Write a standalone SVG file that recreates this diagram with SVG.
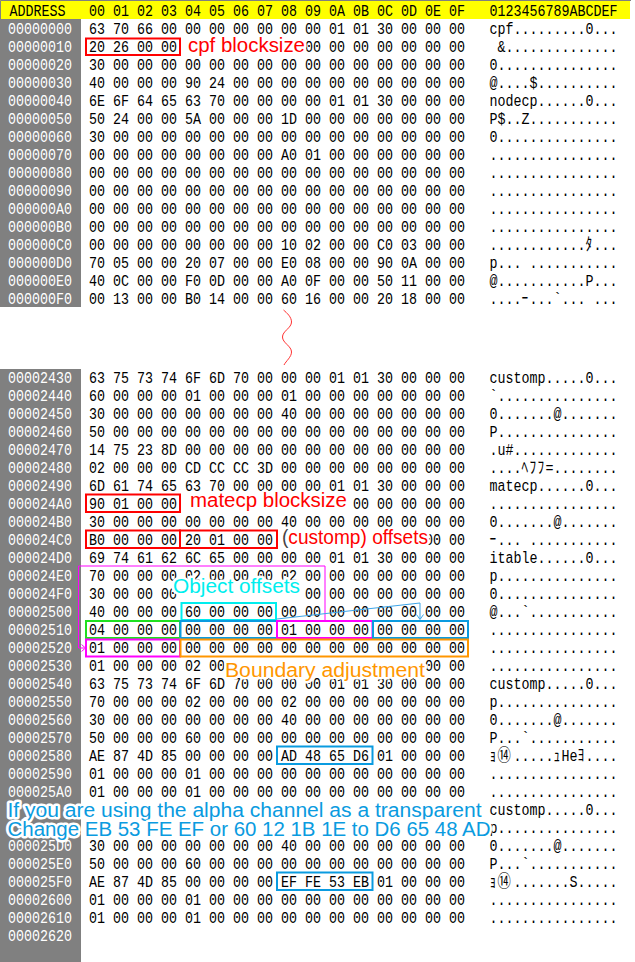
<svg xmlns="http://www.w3.org/2000/svg" width="635" height="962" viewBox="0 0 635 962">
<style>
.t{font-family:"Liberation Mono","Noto Sans CJK JP",monospace;font-size:16.5px;white-space:pre}
.w{fill:#fff}
.k{fill:#000}
.lb{font-family:"Liberation Sans",Arial,sans-serif;paint-order:stroke fill;stroke:#fff;stroke-width:5px;stroke-linejoin:round}
.bx{fill:none;stroke-width:2}
.red{stroke:#ff0000}
.mag{stroke:#ff00ff}
.blu{stroke:#0a9be0}
.cya{stroke:#00eeee}
.grn{stroke:#1fe01f}
.org{stroke:#ff9600}
</style>
<rect width="635" height="962" fill="#fff"/>
<g id="header">
<rect x="0" y="0" width="630" height="19" fill="#ffff00"/>
<path d="M0.5,19 V0.5 H631" fill="none" stroke="#808080" stroke-width="1"/>
<g transform="scale(0.80808 1)">
<text class="t k" x="11.8" y="16.5">ADDRESS</text>
<text class="t k" x="110.1" y="16.5">00 01 02 03 04 05 06 07 08 09 0A 0B 0C 0D 0E 0F</text>
<text class="t k" x="605.8" y="16.5">0123456789ABCDEF</text>
</g>
</g>
<g id="address-column">
<rect x="0" y="19" width="81" height="288" fill="#808080"/>
<rect x="0" y="369" width="81" height="593" fill="#808080"/>
<g transform="scale(0.80808 1)">
<text class="t w" x="9.9" y="34.5">00000000</text>
<text class="t w" x="9.9" y="52.5">00000010</text>
<text class="t w" x="9.9" y="70.5">00000020</text>
<text class="t w" x="9.9" y="88.5">00000030</text>
<text class="t w" x="9.9" y="106.5">00000040</text>
<text class="t w" x="9.9" y="124.5">00000050</text>
<text class="t w" x="9.9" y="142.5">00000060</text>
<text class="t w" x="9.9" y="160.5">00000070</text>
<text class="t w" x="9.9" y="178.5">00000080</text>
<text class="t w" x="9.9" y="196.5">00000090</text>
<text class="t w" x="9.9" y="214.5">000000A0</text>
<text class="t w" x="9.9" y="232.5">000000B0</text>
<text class="t w" x="9.9" y="250.5">000000C0</text>
<text class="t w" x="9.9" y="268.5">000000D0</text>
<text class="t w" x="9.9" y="286.5">000000E0</text>
<text class="t w" x="9.9" y="304.5">000000F0</text>
<text class="t w" x="9.9" y="383">00002430</text>
<text class="t w" x="9.9" y="401">00002440</text>
<text class="t w" x="9.9" y="419">00002450</text>
<text class="t w" x="9.9" y="437">00002460</text>
<text class="t w" x="9.9" y="455">00002470</text>
<text class="t w" x="9.9" y="473">00002480</text>
<text class="t w" x="9.9" y="491">00002490</text>
<text class="t w" x="9.9" y="509">000024A0</text>
<text class="t w" x="9.9" y="527">000024B0</text>
<text class="t w" x="9.9" y="545">000024C0</text>
<text class="t w" x="9.9" y="563">000024D0</text>
<text class="t w" x="9.9" y="581">000024E0</text>
<text class="t w" x="9.9" y="599">000024F0</text>
<text class="t w" x="9.9" y="617">00002500</text>
<text class="t w" x="9.9" y="635">00002510</text>
<text class="t w" x="9.9" y="653">00002520</text>
<text class="t w" x="9.9" y="671">00002530</text>
<text class="t w" x="9.9" y="689">00002540</text>
<text class="t w" x="9.9" y="707">00002550</text>
<text class="t w" x="9.9" y="725">00002560</text>
<text class="t w" x="9.9" y="743">00002570</text>
<text class="t w" x="9.9" y="761">00002580</text>
<text class="t w" x="9.9" y="779">00002590</text>
<text class="t w" x="9.9" y="797">000025A0</text>
<text class="t w" x="9.9" y="851">000025D0</text>
<text class="t w" x="9.9" y="869">000025E0</text>
<text class="t w" x="9.9" y="887">000025F0</text>
<text class="t w" x="9.9" y="905">00002600</text>
<text class="t w" x="9.9" y="923">00002610</text>
<text class="t w" x="9.9" y="941">00002620</text>
</g>
</g>
<g id="hex-bytes" transform="scale(0.80808 1)">
<text class="t k" x="110.1" y="34.5">63 70 66 00 00 00 00 00 00 00 01 01 30 00 00 00</text>
<text class="t k" x="110.1" y="52.5">20 26 00 00</text>
<text class="t k" x="377.4" y="52.5">00 00 00 00 00 00 00</text>
<text class="t k" x="110.1" y="70.5">30 00 00 00 00 00 00 00 00 00 00 00 00 00 00 00</text>
<text class="t k" x="110.1" y="88.5">40 00 00 00 90 24 00 00 00 00 00 00 00 00 00 00</text>
<text class="t k" x="110.1" y="106.5">6E 6F 64 65 63 70 00 00 00 00 01 01 30 00 00 00</text>
<text class="t k" x="110.1" y="124.5">50 24 00 00 5A 00 00 00 1D 00 00 00 00 00 00 00</text>
<text class="t k" x="110.1" y="142.5">30 00 00 00 00 00 00 00 00 00 00 00 00 00 00 00</text>
<text class="t k" x="110.1" y="160.5">00 00 00 00 00 00 00 00 A0 01 00 00 00 00 00 00</text>
<text class="t k" x="110.1" y="178.5">00 00 00 00 00 00 00 00 00 00 00 00 00 00 00 00</text>
<text class="t k" x="110.1" y="196.5">00 00 00 00 00 00 00 00 00 00 00 00 00 00 00 00</text>
<text class="t k" x="110.1" y="214.5">00 00 00 00 00 00 00 00 00 00 00 00 00 00 00 00</text>
<text class="t k" x="110.1" y="232.5">00 00 00 00 00 00 00 00 00 00 00 00 00 00 00 00</text>
<text class="t k" x="110.1" y="250.5">00 00 00 00 00 00 00 00 10 02 00 00 C0 03 00 00</text>
<text class="t k" x="110.1" y="268.5">70 05 00 00 20 07 00 00 E0 08 00 00 90 0A 00 00</text>
<text class="t k" x="110.1" y="286.5">40 0C 00 00 F0 0D 00 00 A0 0F 00 00 50 11 00 00</text>
<text class="t k" x="110.1" y="304.5">00 13 00 00 B0 14 00 00 60 16 00 00 20 18 00 00</text>
<text class="t k" x="110.1" y="383">63 75 73 74 6F 6D 70 00 00 00 01 01 30 00 00 00</text>
<text class="t k" x="110.1" y="401">60 00 00 00 01 00 00 00 01 00 00 00 00 00 00 00</text>
<text class="t k" x="110.1" y="419">30 00 00 00 00 00 00 00 40 00 00 00 00 00 00 00</text>
<text class="t k" x="110.1" y="437">50 00 00 00 00 00 00 00 00 00 00 00 00 00 00 00</text>
<text class="t k" x="110.1" y="455">14 75 23 8D 00 00 00 00 00 00 00 00 00 00 00 00</text>
<text class="t k" x="110.1" y="473">02 00 00 00 CD CC CC 3D 00 00 00 00 00 00 00 00</text>
<text class="t k" x="110.1" y="491">6D 61 74 65 63 70 00 00 00 00 01 01 30 00 00 00</text>
<text class="t k" x="110.1" y="509">90 01 00 00</text>
<text class="t k" x="436.8" y="509">00 00 00 00 00</text>
<text class="t k" x="110.1" y="527">30 00 00 00 00 00 00 00 40 00 00 00 00 00 00 00</text>
<text class="t k" x="110.1" y="545">B0 00 00 00 20 01 00 00</text>
<text class="t k" x="525.9" y="545">00 00</text>
<text class="t k" x="110.1" y="563">69 74 61 62 6C 65 00 00 00 00 01 01 30 00 00 00</text>
<text class="t k" x="110.1" y="581">70 00 00 00 02 00 00 00 02 00 00 00 00 00 00 00</text>
<text class="t k" x="110.1" y="599">30 00 00 00</text>
<text class="t k" x="377.4" y="599">00 00 00 00 00 00 00</text>
<text class="t k" x="110.1" y="617">40 00 00 00 60 00 00 00 00 00 00 00 00 00 00 00</text>
<text class="t k" x="110.1" y="635">04 00 00 00 00 00 00 00 01 00 00 00 00 00 00 00</text>
<text class="t k" x="110.1" y="653">01 00 00 00 00 00 00 00 00 00 00 00 00 00 00 00</text>
<text class="t k" x="110.1" y="671">01 00 00 00 02 00</text>
<text class="t k" x="525.9" y="671">00 00</text>
<text class="t k" x="110.1" y="689">63 75 73 74 6F 6D 70 00 00 00 01 01 30 00 00 00</text>
<text class="t k" x="110.1" y="707">70 00 00 00 02 00 00 00 02 00 00 00 00 00 00 00</text>
<text class="t k" x="110.1" y="725">30 00 00 00 00 00 00 00 40 00 00 00 00 00 00 00</text>
<text class="t k" x="110.1" y="743">50 00 00 00 60 00 00 00 00 00 00 00 00 00 00 00</text>
<text class="t k" x="110.1" y="761">AE 87 4D 85 00 00 00 00 AD 48 65 D6 01 00 00 00</text>
<text class="t k" x="110.1" y="779">01 00 00 00 01 00 00 00 00 00 00 00 00 00 00 00</text>
<text class="t k" x="110.1" y="797">01 00 00 00 01 00 00 00 00 00 00 00 00 00 00 00</text>
<text class="t k" x="110.1" y="851">30 00 00 00 00 00 00 00 40 00 00 00 00 00 00 00</text>
<text class="t k" x="110.1" y="869">50 00 00 00 60 00 00 00 00 00 00 00 00 00 00 00</text>
<text class="t k" x="110.1" y="887">AE 87 4D 85 00 00 00 00 EF FE 53 EB 01 00 00 00</text>
<text class="t k" x="110.1" y="905">01 00 00 00 01 00 00 00 00 00 00 00 00 00 00 00</text>
<text class="t k" x="110.1" y="923">01 00 00 00 01 00 00 00 00 00 00 00 00 00 00 00</text>
</g>
<g id="ascii-column" transform="scale(0.80808 1)">
<text class="t k" x="605.8" y="34.5">cpf.........0...</text>
<text class="t k" x="605.8" y="52.5" xml:space="preserve"> &amp;..............</text>
<text class="t k" x="605.8" y="70.5">0...............</text>
<text class="t k" x="605.8" y="88.5">@....$..........</text>
<text class="t k" x="605.8" y="106.5">nodecp......0...</text>
<text class="t k" x="605.8" y="124.5">P$..Z...........</text>
<text class="t k" x="605.8" y="142.5">0...............</text>
<text class="t k" x="605.8" y="160.5">................</text>
<text class="t k" x="605.8" y="178.5">................</text>
<text class="t k" x="605.8" y="196.5">................</text>
<text class="t k" x="605.8" y="214.5">................</text>
<text class="t k" x="605.8" y="232.5">................</text>
<text class="t k" x="605.8 615.7 625.6 635.5 645.4 655.3 665.2 675.1 685 694.9 704.8 714.7 724.6 734.5 744.4 754.3" y="250.5">............ﾀ...</text>
<text class="t k" x="605.8" y="268.5">p... ...........</text>
<text class="t k" x="605.8" y="286.5">@...........P...</text>
<text class="t k" x="605.8 615.7 625.6 635.5 645.4 655.3 665.2 675.1 685 694.9 704.8 714.7 724.6 734.5 744.4 754.3" y="304.5">....ｰ...`... ...</text>
<text class="t k" x="605.8" y="383">customp.....0...</text>
<text class="t k" x="605.8" y="401">`...............</text>
<text class="t k" x="605.8" y="419">0.......@.......</text>
<text class="t k" x="605.8" y="437">P...............</text>
<text class="t k" x="605.8" y="455">.u#.............</text>
<text class="t k" x="605.8 615.7 625.6 635.5 645.4 655.3 665.2 675.1 685 694.9 704.8 714.7 724.6 734.5 744.4 754.3" y="473">....ﾍﾌﾌ=........</text>
<text class="t k" x="605.8" y="491">matecp......0...</text>
<text class="t k" x="605.8" y="509">................</text>
<text class="t k" x="605.8" y="527">0.......@.......</text>
<text class="t k" x="605.8 615.7 625.6 635.5 645.4 655.3 665.2 675.1 685 694.9 704.8 714.7 724.6 734.5 744.4 754.3" y="545">ｰ... ...........</text>
<text class="t k" x="605.8" y="563">itable......0...</text>
<text class="t k" x="605.8" y="581">p...............</text>
<text class="t k" x="605.8" y="599">0...............</text>
<text class="t k" x="605.8" y="617">@...`...........</text>
<text class="t k" x="605.8" y="635">................</text>
<text class="t k" x="605.8" y="653">................</text>
<text class="t k" x="605.8" y="671">................</text>
<text class="t k" x="605.8" y="689">customp.....0...</text>
<text class="t k" x="605.8" y="707">p...............</text>
<text class="t k" x="605.8" y="725">0.......@.......</text>
<text class="t k" x="605.8" y="743">P...`...........</text>
<text class="t k" x="605.8 615.7 635.5 645.4 655.3 665.2 675.1 685 694.9 704.8 714.7 724.6 734.5 744.4 754.3" y="761">ｮ⑭.....ｭHeﾖ....</text>
<text class="t k" x="605.8" y="779">................</text>
<text class="t k" x="605.8" y="797">................</text>
<text class="t k" x="605.8" y="815">customp.....0...</text>
<text class="t k" x="605.8" y="833">p...............</text>
<text class="t k" x="605.8" y="851">0.......@.......</text>
<text class="t k" x="605.8" y="869">P...`...........</text>
<text class="t k" x="605.8 615.7 635.5 645.4 655.3 665.2 675.1 685 694.9 704.8 714.7 724.6 734.5 744.4 754.3" y="887">ｮ⑭.......S.....</text>
<text class="t k" x="605.8" y="905">................</text>
<text class="t k" x="605.8" y="923">................</text>
</g>
<g id="break-mark">
<path d="M283.5,310 C287,313 291.5,317 291.5,322 C291.5,328 282.5,331 282.5,337 C282.5,343 291.5,346 291.5,352 C291.5,357 286,361 284,365" fill="none" stroke="#ff3030" stroke-width="1"/>
</g>
<g id="boxes">
<rect id="cpf-blocksize-box" class="bx red" x="86" y="38.5" width="94" height="16.5"/>
<rect id="matecp-blocksize-box" class="bx red" x="86" y="494.5" width="94" height="17.5"/>
<rect id="customp-offset-1" class="bx red" x="86" y="530.5" width="94" height="17.5"/>
<rect id="customp-offset-2" class="bx red" x="180" y="530.5" width="97" height="17.5"/>
<rect id="object-offset-box" class="bx cya" x="181.5" y="603" width="94.5" height="17"/>
<rect id="count-box" class="bx grn" x="86" y="621" width="94" height="17"/>
<rect id="offset-box-a" class="bx blu" x="180.5" y="621" width="96.5" height="17"/>
<rect id="itable-ref-box" class="bx mag" x="277" y="621" width="95.5" height="17"/>
<rect id="offset-box-b" class="bx blu" x="373" y="621" width="95" height="17"/>
<rect id="itable-target-box" class="bx mag" x="86" y="639.5" width="94" height="17"/>
<rect id="boundary-box" class="bx org" x="180.5" y="639.5" width="287.5" height="17"/>
<rect id="alpha-box-1" class="bx blu" x="277" y="746.5" width="95.5" height="17.5"/>
<rect id="alpha-box-2" class="bx blu" x="277" y="872.5" width="95.5" height="17.5"/>
</g>
<g id="connectors" fill="none" stroke-width="1">
<path d="M325,620 V566 H78.5 V648 H84.5" stroke="#ff00ff"/>
<path d="M81.5,644.5 L85.5,648 L81.5,651.5" stroke="#ff00ff"/>
<path d="M277,619 L420,603 V619" stroke="#3da5e8"/>
<path d="M416.5,614.5 L420,619.5 L423.5,614.5" stroke="#3da5e8"/>
</g>
<g id="labels">
<text class="lb" x="188" y="51.5" font-size="19.5" fill="#ff0000" textLength="117" lengthAdjust="spacingAndGlyphs">cpf blocksize</text>
<text class="lb" x="190" y="507" font-size="19.5" fill="#ff0000" textLength="157" lengthAdjust="spacingAndGlyphs">matecp blocksize</text>
<text class="lb" x="282" y="543.5" font-size="19.5" fill="#ff0000" textLength="146" lengthAdjust="spacingAndGlyphs"><tspan fill="#444">(</tspan>customp) offsets</text>
<text class="lb" x="173" y="593" font-size="20" fill="#00eeee" textLength="127" lengthAdjust="spacingAndGlyphs">Object offsets</text>
<text class="lb" x="225" y="676.5" font-size="20" fill="#ff9600" textLength="200" lengthAdjust="spacingAndGlyphs">Boundary adjustment</text>
<text class="lb" x="7.5" y="816.5" font-size="20" fill="#0a9be0" textLength="474" lengthAdjust="spacingAndGlyphs">If you are using the alpha channel as a transparent</text>
<text class="lb" x="7.5" y="835.5" font-size="20" fill="#0a9be0" textLength="483" lengthAdjust="spacingAndGlyphs">Change EB 53 FE EF or 60 12 1B 1E to D6 65 48 AD</text>
</g>
</svg>
